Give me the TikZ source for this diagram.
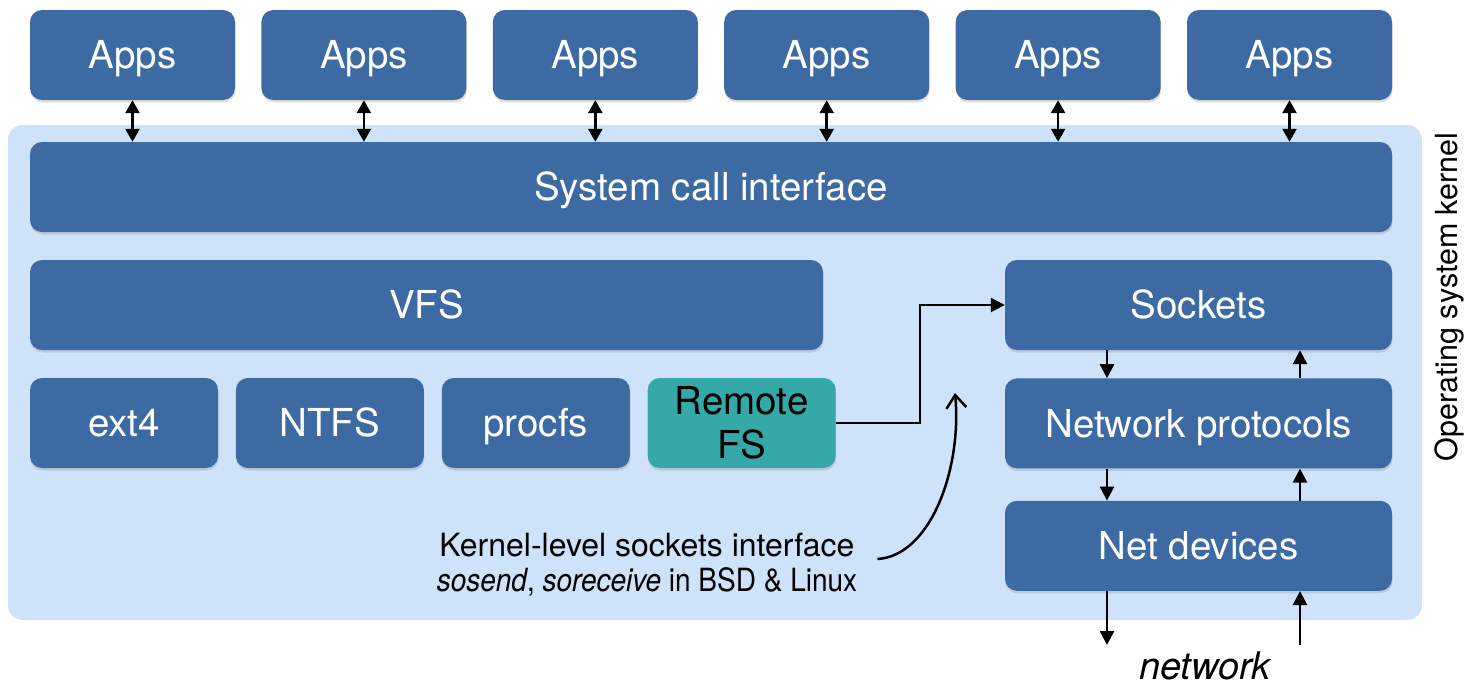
\documentclass[tikz,border=0pt]{standalone}
\usepackage{fontspec}
\setmainfont{TeX Gyre Heros}
\usetikzlibrary{positioning,arrows.meta,shadows,calc}
\definecolor{kernelbg}{RGB}{206,226,250}
\definecolor{layerblue}{RGB}{61,106,163}
\definecolor{remoteteal}{RGB}{53,169,167}

\begin{document}
\begin{tikzpicture}[
    x=1pt, y=-1pt,
    node distance=17.5pt,
    layer/.style={rectangle, rounded corners=12pt, fill=layerblue, text=white, inner sep=0pt, minimum height=90pt, align=center,
        font=\fontsize{38.5}{44}\selectfont, text height=27.5pt, text depth=0pt,
        drop shadow={shadow xshift=0.5pt, shadow yshift=-2.5pt, opacity=0.25}},
    appbox/.style={layer, minimum width=205pt},
    fsbox/.style={layer, minimum width=188pt},
    stackbox/.style={layer, minimum width=387pt},
    flow/.style={-{Triangle[length=14pt,width=14pt]}, line width=2.5pt},
    dual/.style={{Triangle[length=13pt,width=14pt]}-{Triangle[length=13pt,width=14pt]}, line width=2.5pt},
    note/.style={inner sep=0pt, align=center, font=\fontsize{32}{35}\selectfont}
]
\useasboundingbox (0,0) rectangle (1468,686);

% Kernel region
\node[rectangle, rounded corners=15pt, fill=kernelbg, minimum width=1414pt, minimum height=495pt, inner sep=0pt] (kernel) at (715,372.5) {};
\node[note, rotate=90, font=\fontsize{30.5}{34}\selectfont] (oslabel) at (1449,297) {Operating system kernel};

% Applications
\foreach \i in {0,...,5}
    \node[appbox] (app\i) at ({132.5+231.4*\i},55) {Apps};

% System call interface
\node[layer, minimum width=1362pt] (syscall) at (711,187) {System call interface};

% File systems
\node[layer, minimum width=793pt] (vfs) at (426.5,305) {VFS};
\node[fsbox] (ext4) at (124,423) {ext4};
\node[fsbox, right=of ext4] (ntfs) {NTFS};
\node[fsbox, right=of ntfs] (procfs) {procfs};
\node[fsbox, right=of procfs, fill=remoteteal, text=black, text height=70pt] (remote) {Remote\\FS};

% Network stack
\node[stackbox] (sockets) at (1198.5,305) {Sockets};
\node[stackbox, below=28pt of sockets] (netproto) {Network protocols};
\node[stackbox, below=32pt of netproto] (netdev) {Net devices};

% Sockets interface note
\node[note] (kapi) at (647,565) {Kernel-level sockets interface\\\scalebox{0.875}[1]{\textit{sosend}, \textit{soreceive} in BSD \& Linux}};
\coordinate (apitip) at (955,393);
\node[inner sep=0pt, font=\fontsize{38}{40}\selectfont\itshape] (wire) at (1205,666) {network};

% Arrows
\foreach \i in {0,...,5}
    \draw[dual] (app\i.south) -- (app\i.south |- syscall.north);
\draw[flow] (remote.east) -- ++(84,0) |- (sockets.west);
\draw[{Straight Barb[length=13pt,width=20pt]}-, line width=2.5pt] (apitip) .. controls (962,470) and (930,556) .. ([xshift=20pt,yshift=6pt]kapi.east);

\coordinate (dn) at (1107,645);
\coordinate (up) at (1300,645);
\draw[flow] (sockets.south -| dn) -- (netproto.north -| dn);
\draw[flow] (netproto.north -| up) -- (sockets.south -| up);
\draw[flow] (netproto.south -| dn) -- (netdev.north -| dn);
\draw[flow] (netdev.north -| up) -- (netproto.south -| up);
\draw[flow] (netdev.south -| dn) -- (dn);
\draw[flow] (up) -- (netdev.south -| up);

\end{tikzpicture}
\end{document}
